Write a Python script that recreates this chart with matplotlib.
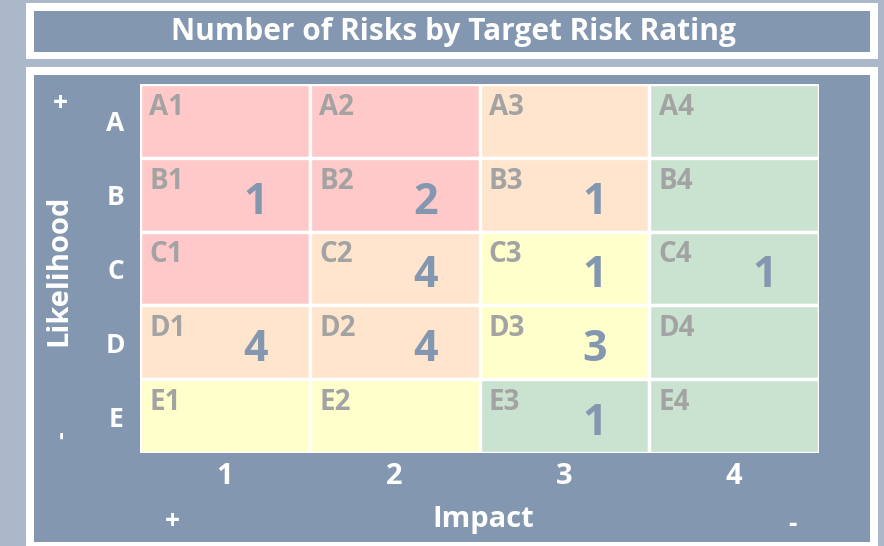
import matplotlib
matplotlib.use("Agg")
import matplotlib.pyplot as plt
from matplotlib.patches import Rectangle

plt.rcParams['font.family'] = ['Open Sans', 'DejaVu Sans']

rows = ['A', 'B', 'C', 'D', 'E']
cols = ['1', '2', '3', '4']
# rating colour of each cell, row by row
ratings = [
    ['red', 'red', 'orange', 'green'],
    ['red', 'red', 'orange', 'green'],
    ['red', 'orange', 'yellow', 'green'],
    ['orange', 'orange', 'yellow', 'green'],
    ['yellow', 'yellow', 'green', 'green'],
]
counts = {'B1': 1, 'B2': 2, 'B3': 1, 'C2': 4, 'C3': 1, 'C4': 1,
          'D1': 4, 'D2': 4, 'D3': 3, 'E3': 1}

palette = {'red': '#ffc9c9', 'orange': '#ffe5cd', 'yellow': '#ffffcc', 'green': '#c9e3d0'}
bg = '#abb8ca'
panel = '#8497b0'

W, H = 884, 546
fig = plt.figure(figsize=(W / 100, H / 100), dpi=100, facecolor=bg)


def box(x0, y0, x1, y1, fc):
    # pixel coords from top-left
    fig.patches.append(Rectangle((x0 / W, 1 - y1 / H), (x1 - x0) / W, (y1 - y0) / H,
                                 transform=fig.transFigure, facecolor=fc,
                                 edgecolor='none', zorder=-5))


# title box
box(26, 3, 878, 59, 'white')
box(34, 11, 870, 52, panel)
fig.text(453 / W, 1 - 32 / H, 'Number of Risks by Target Risk Rating', color='white',
         fontsize=21.5, fontweight='bold', ha='center', va='center')

# main panel
box(26, 67, 878, 546, 'white')
box(34, 75, 870, 542, panel)

ax = fig.add_axes([140 / W, 1 - 453 / H, (819 - 140) / W, (453 - 84) / H])
ax.set_xlim(0, 4)
ax.set_ylim(5, 0)
ax.axis('off')

for i, r in enumerate(rows):
    for j, c in enumerate(cols):
        ax.add_patch(Rectangle((j, i), 1, 1, facecolor=palette[ratings[i][j]],
                               edgecolor='white', linewidth=2.4))
        ax.text(j + 0.055, i + 0.12, r + c, color='#a3a3a3', fontsize=20,
                fontweight='bold', ha='left', va='top')
        n = counts.get(r + c)
        if n is not None:
            ax.text(j + 0.68, i + 0.6, str(n), color=panel, fontsize=31,
                    fontweight='bold', ha='center', va='center')

# row labels
for i, r in enumerate(rows):
    ax.text(-0.144, i + 0.54, r, color='white', fontsize=19, fontweight='bold',
            ha='center', va='center', clip_on=False)
# column labels
for j, c in enumerate(cols):
    ax.text(j + 0.5, 5.32, c, color='white', fontsize=21, fontweight='bold',
            ha='center', va='center', clip_on=False)

fig.text(59 / W, 1 - 270 / H, 'Likelihood', color='white', fontsize=21,
         fontweight='bold', rotation=90, ha='center', va='center')
fig.text(60 / W, 1 - 104 / H, '+', color='white', fontsize=19, fontweight='bold',
         ha='center', va='center')
fig.text(62 / W, 1 - 435 / H, '-', color='white', fontsize=17, fontweight='bold',
         ha='center', va='center', rotation=90)
fig.text(483 / W, 1 - 520 / H, 'Impact', color='white', fontsize=21,
         fontweight='bold', ha='center', va='center')
fig.text(172 / W, 1 - 522 / H, '+', color='white', fontsize=19, fontweight='bold',
         ha='center', va='center')
fig.text(792 / W, 1 - 524 / H, '-', color='white', fontsize=19, fontweight='bold',
         ha='center', va='center')

fig.savefig('out.png', dpi=100, facecolor=bg)
